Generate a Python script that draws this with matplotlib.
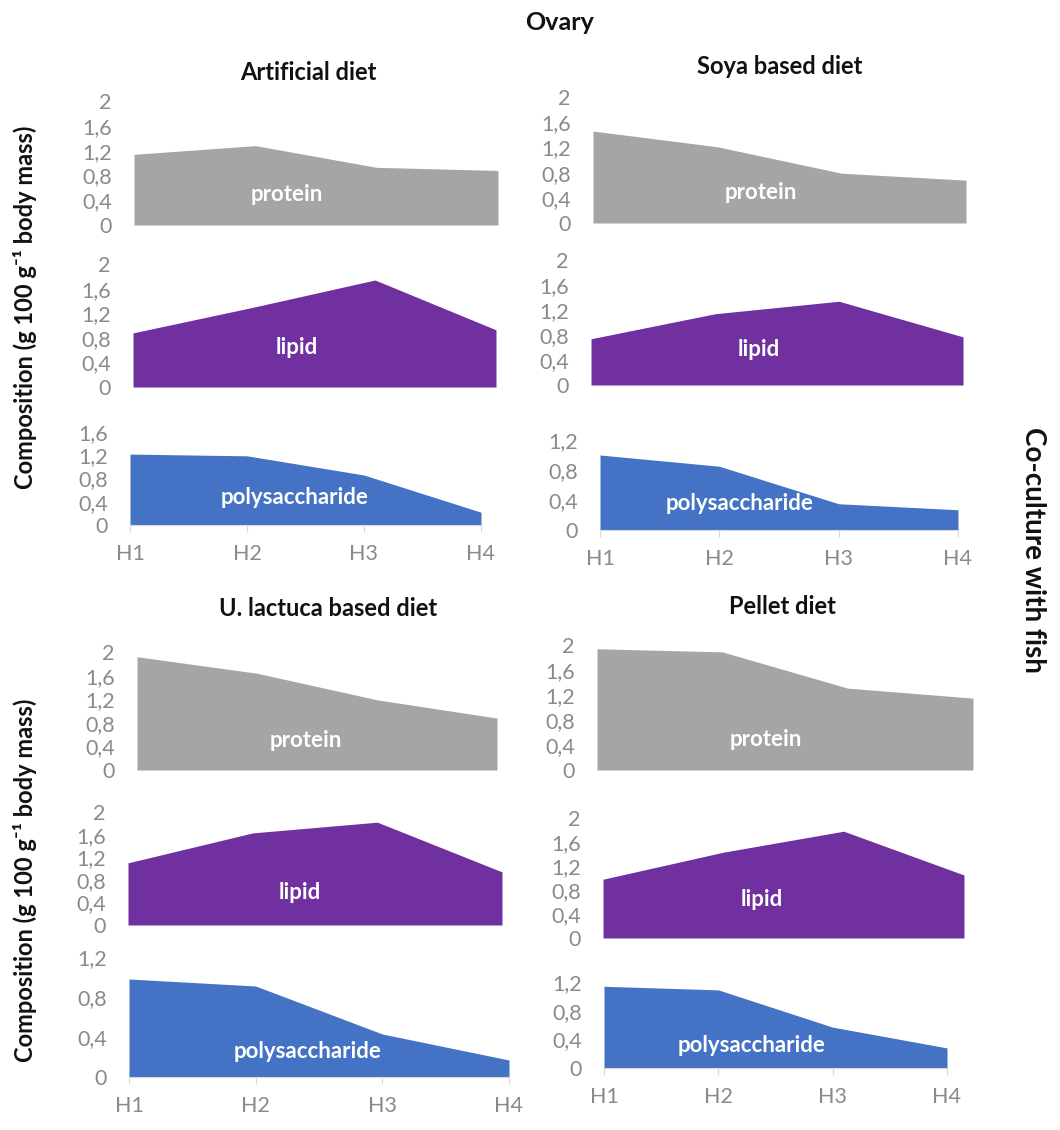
import matplotlib
matplotlib.use('Agg')
import matplotlib.pyplot as plt
from matplotlib.ticker import FuncFormatter

plt.rcParams['font.family'] = ['Lato', 'DejaVu Sans']

# gonad developmental stages
stages = ['H1', 'H2', 'H3', 'H4']

# composition in g 100 g-1 body mass, one list per diet and component
artificial_protein = [1.14, 1.28, 0.93, 0.88]
artificial_lipid = [0.88, 1.30, 1.74, 0.93]
artificial_poly = [1.22, 1.19, 0.86, 0.22]

soya_protein = [1.46, 1.21, 0.79, 0.68]
soya_lipid = [0.74, 1.14, 1.34, 0.77]
soya_poly = [1.00, 0.85, 0.35, 0.27]

ulva_protein = [1.92, 1.64, 1.19, 0.88]
ulva_lipid = [1.10, 1.63, 1.82, 0.94]
ulva_poly = [0.98, 0.91, 0.43, 0.17]

pellet_protein = [1.94, 1.89, 1.31, 1.15]
pellet_lipid = [0.98, 1.43, 1.78, 1.05]
pellet_poly = [1.14, 1.09, 0.57, 0.28]

diet_titles = ['Artificial diet', 'Soya based diet', 'U. lactuca based diet', 'Pellet diet']
components = ['protein', 'lipid', 'polysaccharide']
colors = {'protein': '#a5a5a5', 'lipid': '#7030a0', 'polysaccharide': '#4472c4'}
tick_color = '#8a8a8a'

W, H = 1060, 1130
fig = plt.figure(figsize=(W / 100, H / 100), dpi=100)


def px_axes(x0, x1, ytop, ybot):
    # axes placed from pixel edges (origin top-left)
    return fig.add_axes([x0 / W, 1 - ybot / H, (x1 - x0) / W, (ybot - ytop) / H])


def comma_fmt(v, pos):
    s = '%g' % round(v, 2)
    return s.replace('.', ',')


# pixel boxes for each small area chart: (x_left, x_right, y_top, y_bottom)
panels = [
    {'title': diet_titles[0], 'title_xy': (308, 72),
     'values': [artificial_protein, artificial_lipid, artificial_poly],
     'boxes': [(134, 498, 101, 225), (133, 496, 264, 387), (130, 481, 432, 525)],
     'ytops': [2, 2, 1.6],
     'labels': [(1.26, 0.49), (1.35, 0.65), (1.41, 0.47)]},
    {'title': diet_titles[1], 'title_xy': (780, 66),
     'values': [soya_protein, soya_lipid, soya_poly],
     'boxes': [(593, 966, 97, 223), (591, 963, 260, 385), (600, 958, 440, 530)],
     'ytops': [2, 2, 1.2],
     'labels': [(1.35, 0.49), (1.35, 0.56), (1.17, 0.36)]},
    {'title': diet_titles[2], 'title_xy': (328, 608),
     'values': [ulva_protein, ulva_lipid, ulva_poly],
     'boxes': [(137, 497, 652, 770), (128, 502, 812, 925), (129, 509, 957, 1077)],
     'ytops': [2, 2, 1.2],
     'labels': [(1.41, 0.50), (1.38, 0.58), (1.41, 0.25)]},
    {'title': diet_titles[3], 'title_xy': (782, 607),
     'values': [pellet_protein, pellet_lipid, pellet_poly],
     'boxes': [(597, 973, 645, 770), (603, 964, 818, 938), (604, 947, 982, 1068)],
     'ytops': [2, 2, 1.2],
     'labels': [(1.35, 0.48), (1.32, 0.65), (1.29, 0.32)]},
]

xs = list(range(len(stages)))

for p in panels:
    tx, ty = p['title_xy']
    fig.text(tx / W, 1 - ty / H, p['title'], ha='center', va='center',
             fontsize=17, fontweight='bold', color='#111111')
    for k, comp in enumerate(components):
        x0, x1, yt, yb = p['boxes'][k]
        ax = px_axes(x0, x1, yt, yb)
        ax.fill_between(xs, 0, p['values'][k], color=colors[comp], linewidth=0)
        ax.set_xlim(0, 3)
        top = p['ytops'][k]
        ax.set_ylim(0, top)
        if top == 2:
            ticks = [0, 0.4, 0.8, 1.2, 1.6, 2]
        else:
            ticks = [round(i * 0.4, 2) for i in range(int(round(top / 0.4)) + 1)]
        ax.set_yticks(ticks)
        ax.yaxis.set_major_formatter(FuncFormatter(comma_fmt))
        ax.tick_params(axis='y', length=0, pad=16, labelsize=15.5, labelcolor=tick_color)
        for s in ['top', 'right', 'left']:
            ax.spines[s].set_visible(False)
        if comp == 'polysaccharide':
            ax.set_xticks(xs)
            ax.set_xticklabels(stages)
            ax.spines['bottom'].set_color('#d9d9d9')
            ax.tick_params(axis='x', length=5, color='#d9d9d9', pad=9,
                           labelsize=15.5, labelcolor=tick_color)
        else:
            ax.spines['bottom'].set_visible(False)
            ax.set_xticks([])
        lx, ly = p['labels'][k]
        ax.text(lx, ly, comp, ha='center', va='center', color='white',
                fontsize=16, fontweight='bold')
        ax.patch.set_alpha(0)

fig.text(560 / W, 1 - 22 / H, 'Ovary', ha='center', va='center',
         fontsize=18, fontweight='bold', color='#111111')

ylab = 'Composition (g 100 g\u207b\u00b9 body mass)'
for yc in (307, 880):
    fig.text(25 / W, 1 - yc / H, ylab, rotation=90, ha='center', va='center',
             fontsize=17, fontweight='bold', color='#111111')

fig.text(1033 / W, 1 - 550 / H, 'Co-culture with fish', rotation=270,
         ha='center', va='center', fontsize=20, fontweight='bold', color='#111111')

fig.savefig('out.png', dpi=100, facecolor='white')
